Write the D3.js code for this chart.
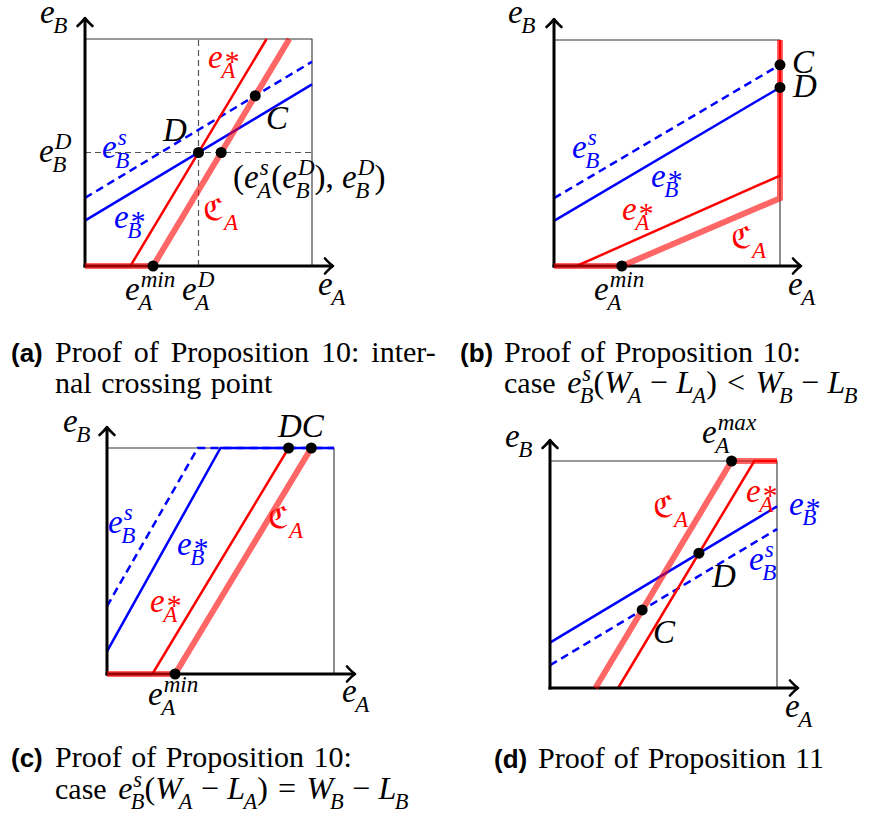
<!DOCTYPE html>
<html><head><meta charset="utf-8">
<script src="https://cdn.jsdelivr.net/npm/d3@7"></script>
<style>body{margin:0;background:#fff} svg{display:block}</style>
</head><body><svg id="c" width="872" height="815"></svg>
<script>
// ---------------- DATA (unit square: e_A horizontal, e_B vertical) ----------------
const unitDomain = [0, 1];
// (a) internal crossing point
const aEAstar = [[0,0],[0.2,0],[0.8,1]];
const aCA     = [[0,0],[0.3,0],[0.9,1]];
const aEBstar = [[0,0.2],[1,0.8]];
const aEBs    = [[0,0.3],[1,0.9]];
const aGuideX = [0.5];
const aGuideY = [0.5];
const aPoints = [[0.3,0],[0.5,0.5],[0.6,0.5],[0.75,0.75]];
// (b) case e_B^s(W_A-L_A) < W_B-L_B
const bEAstar = [[0,0],[0.1,0],[1,0.4],[1,1]];
const bCA     = [[0,0],[0.3,0],[1,0.3],[1,1]];
const bEBstar = [[0,0.2],[1,0.79]];
const bEBs    = [[0,0.3],[1,0.89]];
const bPoints = [[0.3,0],[1,0.89],[1,0.79]];
// (c) case e_B^s(W_A-L_A) = W_B-L_B
const cEAstar = [[0,0],[0.2,0],[0.8,1]];
const cCA     = [[0,0],[0.3,0],[0.9,1]];
const cEBstar = [[0,0.1],[0.5,1],[1,1]];
const cEBs    = [[0,0.3],[0.4,1],[1,1]];
const cPoints = [[0.3,0],[0.8,1],[0.9,1]];
// (d) Proposition 11
const dEAstar = [[0.3,0],[0.9,1],[1,1]];
const dCA     = [[0.2,0],[0.8,1],[1,1]];
const dEBstar = [[0,0.2],[1,0.8]];
const dEBs    = [[0,0.1],[1,0.7]];
const dPoints = [[0.8,1],[0.656,0.594],[0.406,0.344]];

// caption texts
const capA = ["Proof of Proposition 10:", "inter-", "nal crossing point"];
const capB = ["Proof of Proposition 10:"];
const capC = ["Proof of Proposition 10:"];
const capD = ["Proof of Proposition 11"];

// ---------------- LAYOUT ----------------
const svg = d3.select('#c');
const SERIF = "'Liberation Serif', 'Times New Roman', Times, 'DejaVu Serif', serif";
const F = 33;          // math label size
const RED = '#ff0000', BLUE = '#0000ff';

function mathText(g, x, y, tokens, color, size) {
  size = size || F;
  let cx = x;
  tokens.forEach(tok => {
    if (tok.sp !== undefined) { cx += tok.sp * size; return; }
    const t = g.append('text').attr('x', cx).attr('y', y)
      .attr('font-family', tok.fam || SERIF)
      .attr('font-style', tok.it === false ? 'normal' : 'italic')
      .attr('font-size', size * (tok.scale || 1))
      .attr('fill', color).text(tok.s);
    const endx = cx + t.node().getComputedTextLength();
    let sw = 0, pw = 0;
    const ss = size * 0.7;
    if (tok.sub) {
      const sx = endx + (tok.subdx !== undefined ? tok.subdx : -1.5);
      const s = g.append('text').attr('x', sx).attr('y', y + 0.3 * size)
        .attr('font-family', SERIF).attr('font-style', 'italic')
        .attr('font-size', ss).attr('fill', color).text(tok.sub);
      sw = sx + s.node().getComputedTextLength() - endx;
    }
    if (tok.sup) {
      const px = endx + (tok.supdx !== undefined ? tok.supdx : 1);
      let s;
      if (tok.sup === '*') {
        s = g.append('text').attr('x', px + 1).attr('y', y + 0.08 * size)
          .attr('font-family', SERIF).attr('font-size', size * 0.9)
          .attr('fill', color).text('*');
      } else {
        s = g.append('text').attr('x', px).attr('y', y - 0.38 * size)
          .attr('font-family', SERIF).attr('font-style', 'italic')
          .attr('font-size', ss).attr('fill', color).text(tok.sup);
      }
      pw = px + s.node().getComputedTextLength() - endx;
    }
    cx = endx + Math.max(sw, pw);
  });
  return cx;
}

function panel(cfg) {
  const g = svg.append('g');
  const x = d3.scaleLinear().domain(unitDomain).range([cfg.ox, cfg.ox + cfg.w]);
  const y = d3.scaleLinear().domain(unitDomain).range([cfg.oy, cfg.oy - cfg.h]);
  const line = d3.line().x(d => x(d[0])).y(d => y(d[1]));
  // box
  g.append('path').attr('d', line([[0,1],[1,1],[1,0]]))
    .attr('fill', 'none').attr('stroke', '#333').attr('stroke-width', 1.1);
  // guides
  (cfg.gx || []).forEach(v => g.append('path').attr('d', line([[v,0],[v,1]]))
    .attr('stroke', '#555').attr('stroke-width', 1.2).attr('stroke-dasharray', '6,4').attr('fill','none'));
  (cfg.gy || []).forEach(v => g.append('path').attr('d', line([[0,v],[1,v]]))
    .attr('stroke', '#555').attr('stroke-width', 1.2).attr('stroke-dasharray', '6,4').attr('fill','none'));
  // thin curves
  g.append('path').attr('d', line(cfg.ebs)).attr('fill','none').attr('stroke', BLUE)
    .attr('stroke-width', 2.5).attr('stroke-dasharray', '8,5');
  g.append('path').attr('d', line(cfg.ebstar)).attr('fill','none').attr('stroke', BLUE).attr('stroke-width', 2.5);
  g.append('path').attr('d', line(cfg.eastar)).attr('fill','none').attr('stroke', RED).attr('stroke-width', 2.5);
  // axes
  const ext = 21;
  g.append('line').attr('x1', x(0) - 1.5).attr('y1', y(0)).attr('x2', x(1) + ext).attr('y2', y(0))
    .attr('stroke', '#000').attr('stroke-width', 3);
  g.append('line').attr('x1', x(0)).attr('y1', y(0) + 1.5).attr('x2', x(0)).attr('y2', y(1) - ext)
    .attr('stroke', '#000').attr('stroke-width', 3);
  const tx = x(1) + ext, ty = y(0);
  g.append('path').attr('d', `M${tx-8},${ty-7.5} Q${tx-3},${ty-2} ${tx},${ty} Q${tx-3},${ty+2} ${tx-8},${ty+7.5}`)
    .attr('fill','none').attr('stroke','#000').attr('stroke-width',2.6).attr('stroke-linecap','round').attr('stroke-linejoin','round');
  const ux = x(0), uy = y(1) - ext;
  g.append('path').attr('d', `M${ux-7.5},${uy+8} Q${ux-2},${uy+3} ${ux},${uy} Q${ux+2},${uy+3} ${ux+7.5},${uy+8}`)
    .attr('fill','none').attr('stroke','#000').attr('stroke-width',2.6).attr('stroke-linecap','round').attr('stroke-linejoin','round');
  // thick translucent curve
  g.append('path').attr('d', line(cfg.ca)).attr('fill','none').attr('stroke', RED)
    .attr('stroke-opacity', 0.6).attr('stroke-width', 6);
  // points
  g.selectAll('circle.p').data(cfg.pts).enter().append('circle')
    .attr('cx', d => x(d[0])).attr('cy', d => y(d[1])).attr('r', 5.5).attr('fill', '#000');
  // labels: offsets relative to origin
  cfg.labels.forEach(l => mathText(g, cfg.ox + l.dx, cfg.oy + l.dy, l.t, l.c || '#000', l.size));
}

const eB = [{s:'e', sub:'B'}];
const eA = [{s:'e', sub:'A'}];
const eAmin = [{s:'e', sub:'A', sup:'min'}];
const eAstarT = [{s:'e', sub:'A', sup:'*'}];
const eBstarT = [{s:'e', sub:'B', sup:'*'}];
const eBsT = [{s:'e', sub:'B', sup:'s'}];
const CAT = [{s:'\u212D', fam:"'DejaVu Serif', 'DejaVu Sans'", it:false, scale:0.9, sub:'A', subdx:0}];

panel({ox:85, oy:266, w:227, h:227, gx:aGuideX, gy:aGuideY,
  eastar:aEAstar, ca:aCA, ebstar:aEBstar, ebs:aEBs, pts:aPoints,
  labels:[
    {dx:-45, dy:-243, t:eB}, {dx:233, dy:29, t:eA},
    {dx:40, dy:34, t:eAmin}, {dx:97, dy:34, t:[{s:'e', sub:'A', sup:'D'}]},
    {dx:-46, dy:-104, t:[{s:'e', sub:'B', sup:'D'}]},
    {dx:123, dy:-198, t:eAstarT, c:RED}, {dx:17, dy:-108, t:eBsT, c:BLUE},
    {dx:29, dy:-38, t:eBstarT, c:BLUE},
    {dx:78, dy:-125, t:[{s:'D'}]}, {dx:181, dy:-137, t:[{s:'C'}]},
    {dx:148, dy:-78, t:[{s:'(', it:false}, {s:'e', sub:'A', sup:'s'}, {s:'(', it:false},
       {s:'e', sub:'B', sup:'D'}, {s:')', it:false}, {s:',', it:false}, {sp:0.25},
       {s:'e', sub:'B', sup:'D'}, {s:')', it:false}]},
    {dx:118, dy:-46, t:CAT, c:RED}
  ]});

panel({ox:554, oy:266, w:226, h:226,
  eastar:bEAstar, ca:bCA, ebstar:bEBstar, ebs:bEBs, pts:bPoints,
  labels:[
    {dx:-46, dy:-243, t:eB}, {dx:234, dy:29, t:eA},
    {dx:40, dy:34, t:eAmin},
    {dx:238, dy:-193, t:[{s:'C'}]}, {dx:239, dy:-169, t:[{s:'D'}]},
    {dx:18, dy:-108, t:eBsT, c:BLUE}, {dx:97, dy:-79, t:eBstarT, c:BLUE},
    {dx:68, dy:-46, t:eAstarT, c:RED}, {dx:177, dy:-18, t:CAT, c:RED}
  ]});

panel({ox:107, oy:674, w:227, h:226,
  eastar:cEAstar, ca:cCA, ebstar:cEBstar, ebs:cEBs, pts:cPoints,
  labels:[
    {dx:-44, dy:-242, t:eB}, {dx:235, dy:28, t:eA},
    {dx:41, dy:31, t:eAmin},
    {dx:171, dy:-237, t:[{s:'DC'}]},
    {dx:1, dy:-141, t:eBsT, c:BLUE}, {dx:70, dy:-119, t:eBstarT, c:BLUE},
    {dx:43, dy:-62, t:eAstarT, c:RED}, {dx:161, dy:-146, t:CAT, c:RED}
  ]});

panel({ox:550, oy:688, w:227, h:227,
  eastar:dEAstar, ca:dCA, ebstar:dEBstar, ebs:dEBs, pts:dPoints,
  labels:[
    {dx:-45, dy:-241, t:eB}, {dx:235, dy:29, t:eA},
    {dx:152, dy:-245, t:[{s:'e', sub:'A', sup:'max'}]},
    {dx:103, dy:-171, t:CAT, c:RED}, {dx:196, dy:-186, t:eAstarT, c:RED},
    {dx:239, dy:-173, t:eBstarT, c:BLUE}, {dx:199, dy:-118, t:eBsT, c:BLUE},
    {dx:162, dy:-101, t:[{s:'D'}]}, {dx:103, dy:-45, t:[{s:'C'}]}
  ]});

// ---------------- CAPTIONS ----------------
const CF = 30;
const CM = 32;   // caption math size
function tag(x, y, s) {
  svg.append('text').attr('x', x).attr('y', y).attr('font-family', "'Liberation Sans', Arial, 'DejaVu Sans', sans-serif")
    .attr('font-weight', 'bold').attr('font-size', 26).attr('fill', '#000').text(s);
}
function rom(x, y, s, ws) {
  svg.append('text').attr('x', x).attr('y', y).attr('font-family', SERIF)
    .attr('font-size', CF).attr('word-spacing', ws || 2).attr('fill', '#000').text(s);
}
const caseTokens = rel => [{s:'case', it:false, scale:CF/CM}, {sp:0.36}, {s:'e', sub:'B', sup:'s'}, {s:'(', it:false},
  {s:'W', sub:'A', subdx:-3}, {sp:0.26}, {s:'\u2212', it:false}, {sp:0.26}, {s:'L', sub:'A'},
  {s:')', it:false}, {sp:0.32}, {s:rel, it:false}, {sp:0.32}, {s:'W', sub:'B', subdx:-3},
  {sp:0.26}, {s:'\u2212', it:false}, {sp:0.26}, {s:'L', sub:'B'}];

const capG = svg.append('g');
tag(11, 362, '(a)');
rom(55, 362, capA[0] + ' ' + capA[1], 4.5);
rom(55, 393, capA[2]);
tag(460, 362, '(b)');
rom(504, 362, capB[0]);
mathText(capG, 504, 393, caseTokens('<'), '#000', CM);
tag(11, 767, '(c)');
rom(55, 767, capC[0]);
mathText(capG, 55, 799, caseTokens('='), '#000', CM);
tag(494, 768, '(d)');
rom(538, 768, capD[0], 1.5);
</script></body></html>
